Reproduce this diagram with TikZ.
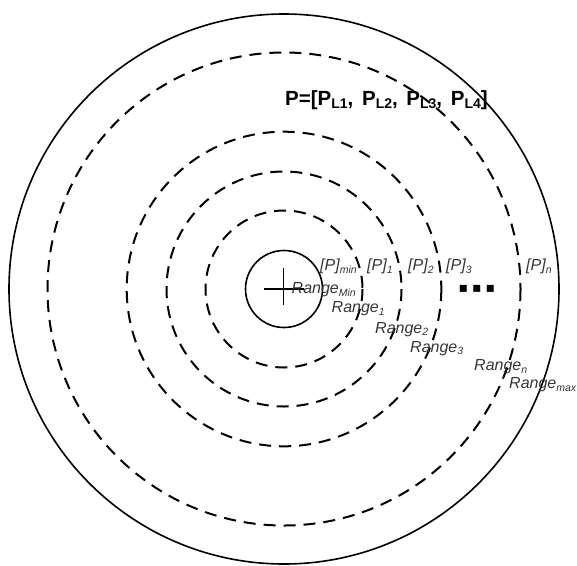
\documentclass[tikz,border=0pt]{standalone}
\usepackage{fontspec}
\setmainfont{Liberation Sans}
\newfontfamily\symfont{DejaVu Sans}
\definecolor{lblgray}{RGB}{55,55,55}
\newcommand\sublbl[1]{\raisebox{-2.5pt}{\fontsize{10.5}{10.5}\selectfont #1}}
\newcommand\subttl[1]{\raisebox{-3.2pt}{\fontsize{14}{14}\selectfont #1}}
\tikzset{
  solidring/.style={draw=black, line width=1.6pt},
  dashring/.style={draw=black, line width=2pt, dash pattern=on 12pt off 8pt},
  lab/.style={anchor=base west, inner sep=0pt, text=lblgray, font=\itshape\fontsize{16}{18}\selectfont},
  ttl/.style={anchor=base west, inner sep=0pt, text=black, font=\bfseries\fontsize{20.5}{22}\selectfont},
  dotsstyle/.style={anchor=base west, inner sep=0pt, text=black, font=\symfont\fontsize{14}{14}\selectfont}
}
\begin{document}
\begin{tikzpicture}[x=1pt,y=-1pt]
\useasboundingbox[fill=white] (0,0) rectangle (577,565);
\coordinate (c) at (284,289);
% rings
\draw[solidring] (c) circle[radius=275];
\draw[dashring] (c) circle[radius=236.5];
\draw[dashring] (c) circle[radius=157.3];
\draw[dashring] (c) circle[radius=117.5];
\draw[dashring] (c) circle[radius=78.5];
\draw[solidring] (c) circle[radius=38.5];
% cross
\coordinate (ct) at (283.5,268);
\coordinate (cb) at (283.5,305);
\coordinate (cl) at (263.5,289);
\coordinate (cr) at (303.5,289);
\draw[line width=1.6pt] (ct) -- (cb);
\draw[line width=1.6pt] (cl) -- (cr);
% title
\node[ttl] (title) at (285,105) {P=[P\subttl{L1},\hspace{3pt} P\subttl{L2},\hspace{3pt} P\subttl{L3},\hspace{3pt} P\subttl{L4}]};
% labels
\node[lab] (pmin) at (320,270.5) {[P]\sublbl{min}};
\node[lab] (p1) at (367,270.5) {[P]\sublbl{1}};
\node[lab] (p2) at (408,270.5) {[P]\sublbl{2}};
\node[lab] (p3) at (446,270.5) {[P]\sublbl{3}};
\node[lab] (pn) at (526,270.5) {[P]\sublbl{n}};
\node[lab] (rmin) at (291.5,293.5) {Range\sublbl{Min}};
\node[lab] (r1) at (331.5,312.5) {Range\sublbl{1}};
\node[lab] (r2) at (375,333) {Range\sublbl{2}};
\node[lab] (r3) at (410,352) {Range\sublbl{3}};
\node[lab] (rn) at (474,370.5) {Range\sublbl{n}};
\node[lab] (rmax) at (509,388.5) {Range\sublbl{max}};
\node[dotsstyle] (dots) at (458.5,292) {▪\hspace{4pt}▪\hspace{4pt}▪};
\end{tikzpicture}
\end{document}
